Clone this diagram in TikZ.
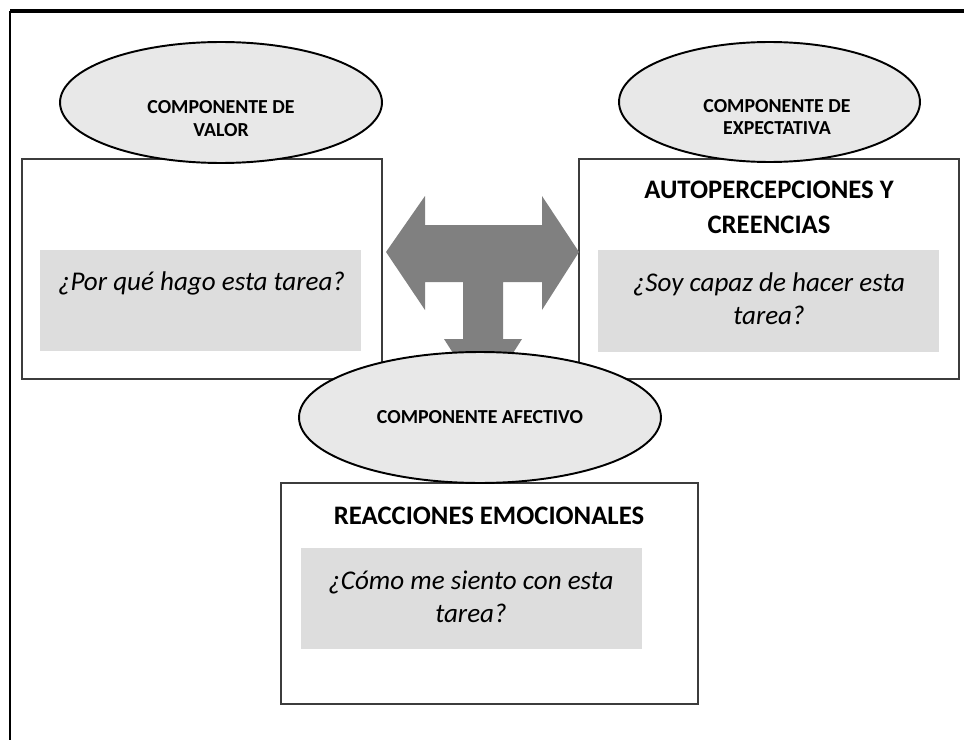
\documentclass[tikz,border=0pt]{standalone}
\usepackage{fontspec}
\setmainfont{Carlito}
\usetikzlibrary{shapes.geometric}
\usetikzlibrary{positioning}
\definecolor{elipsegris}{HTML}{E8E8E8}
\definecolor{cajagris}{HTML}{DDDDDD}
\definecolor{flechagris}{HTML}{808080}
\definecolor{bordegris}{HTML}{3C3C3C}
\tikzset{caja/.style = {draw=bordegris, line width=0.7pt, fill=white, inner sep=0pt},
         pregunta/.style = {fill=cajagris, inner sep=0pt},
         componente/.style = {ellipse, draw=black, line width=1.1pt, fill=elipsegris, inner sep=0pt},
         etiqueta/.style = {font=\fontsize{11.3}{13}\selectfont\bfseries, align=center, inner sep=0pt},
         titulo/.style = {font=\fontsize{15.2}{20}\selectfont\bfseries, align=center, inner sep=0pt},
         texto/.style = {font=\fontsize{15.4}{19}\selectfont\itshape, align=center, inner sep=0pt}}

\begin{document}
\begin{tikzpicture}[x=0.02cm, y=-0.02cm]
     \useasboundingbox (0, 0) rectangle (964, 740);
     \draw [line width=1.8pt] (10, 11) -- (964, 11);
     \draw [line width=1.2pt] (10, 11) -- (10, 740);
     % cajas
     \node [caja, minimum width=7.2cm, minimum height=4.4cm] (valorcaja) at (202, 269) {};
     \node [caja, minimum width=7.6cm, minimum height=4.4cm] (expcaja) at (769, 269) {};
     \node [caja, minimum width=8.34cm, minimum height=4.42cm] (afecaja) at (489.5, 593.5) {};
     \node [pregunta, minimum width=6.42cm, minimum height=2.02cm] (valorgris) at (200.5, 300.5) {};
     \node [pregunta, minimum width=6.82cm, minimum height=2.04cm] (expgris) at (768.5, 301) {};
     \node [pregunta, minimum width=6.82cm, minimum height=2.02cm] (afegris) at (471.5, 598.5) {};
     % flecha
     \fill [flechagris] (386, 252) -- (425, 196) -- (425, 225) -- (542, 225) -- (542, 196)
          -- (579, 252) -- (542, 310) -- (542, 282) -- (503, 282) -- (503, 339)
          -- (522, 339) -- (483, 400) -- (444, 339) -- (463, 339) -- (463, 282)
          -- (425, 282) -- (425, 310) -- cycle;
     % componentes
     \node [componente, minimum width=6.44cm, minimum height=2.42cm] (valor) at (221, 102.5) {};
     \node [componente, minimum width=6.02cm, minimum height=2.4cm] (expectativa) at (769.5, 102) {};
     \node [componente, minimum width=7.24cm, minimum height=2.62cm] (afectivo) at (480, 417.5) {};
     \node [etiqueta] (valortxt) at (221, 118.5) {COMPONENTE DE\\VALOR};
     \node [etiqueta] (expectativatxt) at (777, 117) {COMPONENTE DE\\EXPECTATIVA};
     \node [etiqueta] (afectivotxt) at (480, 417) {COMPONENTE AFECTIVO};
     % textos
     \node [titulo] (exptitulo) at (769, 207) {AUTOPERCEPCIONES Y\\CREENCIAS};
     \node [titulo] (afetitulo) at (489, 516) {REACCIONES EMOCIONALES};
     \node [texto] (valorpreg) at (201.5, 283) {¿Por qué hago esta tarea?};
     \node [texto] (exppreg) at (769, 298.5) {¿Soy capaz de hacer esta\\tarea?};
     \node [texto] (afepreg) at (471, 596.5) {¿Cómo me siento con esta\\tarea?};
\end{tikzpicture}
\end{document}
